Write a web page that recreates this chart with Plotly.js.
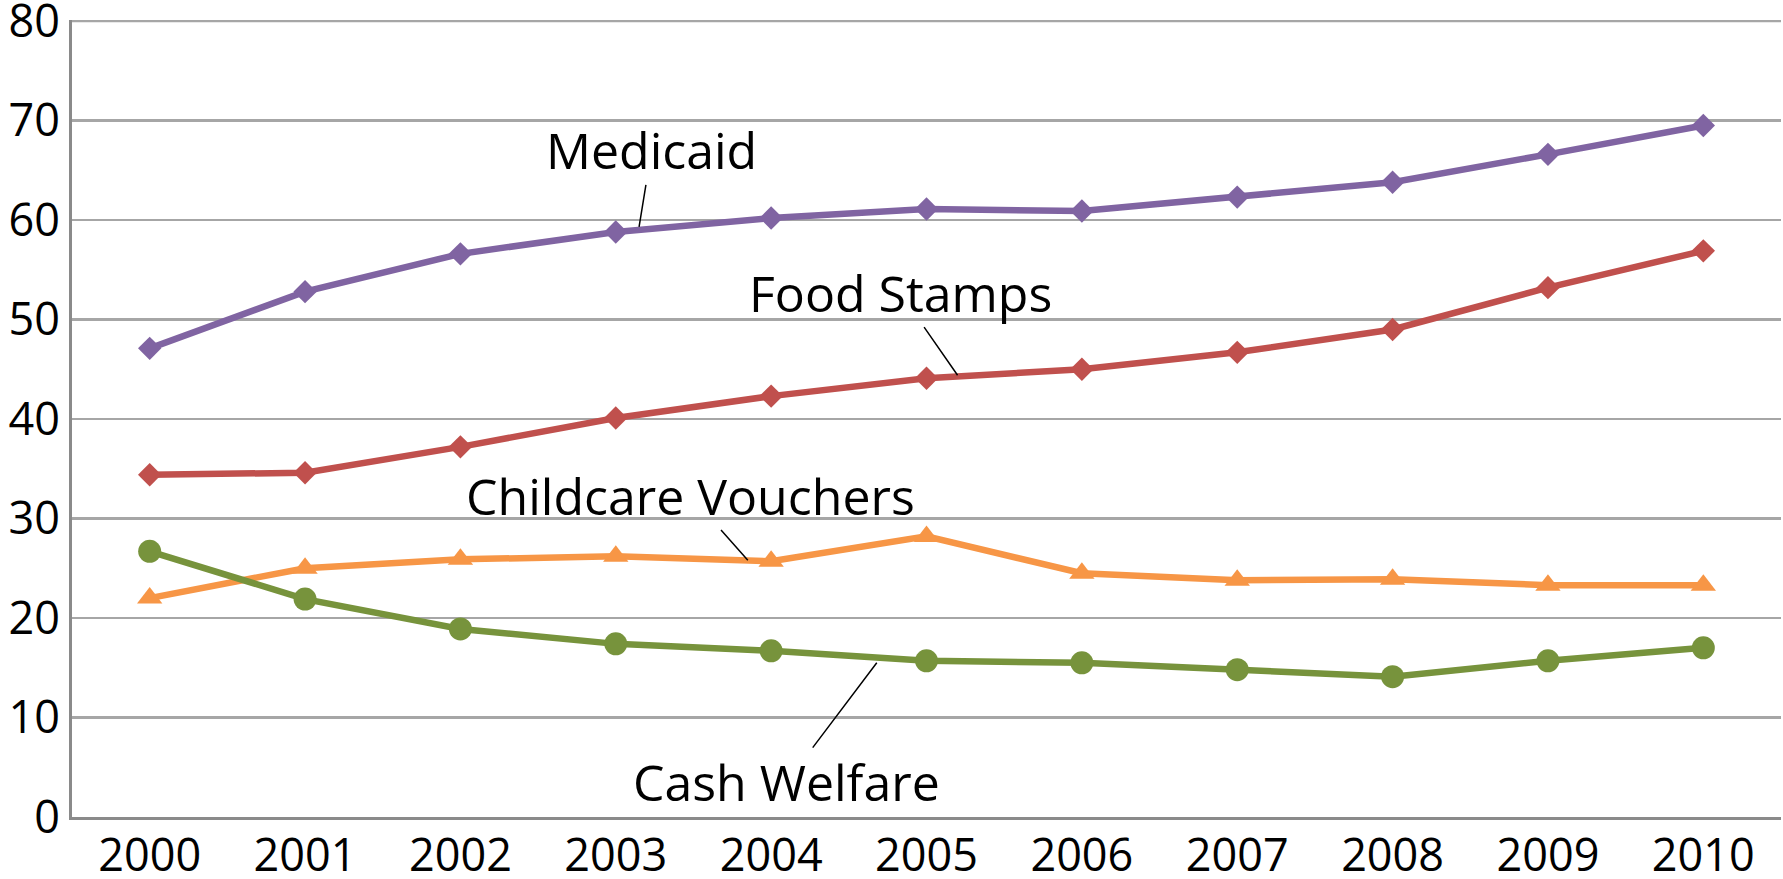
<!DOCTYPE html>
<html>
<head>
<meta charset="utf-8">
<script src="https://cdn.plot.ly/plotly-3.0.1.min.js"></script>
<style>html,body{margin:0;padding:0;background:#fff;}#chart{width:1783px;height:879px;}</style>
</head>
<body>
<div id="chart"></div>
<script>
const years = [2000, 2001, 2002, 2003, 2004, 2005, 2006, 2007, 2008, 2009, 2010];
const tickLabels = ["2000","2001","2002","2003","2004","2005","2006","2007","2008","2009","2010"];
const medicaid = [47.1, 52.8, 56.6, 58.8, 60.2, 61.1, 60.9, 62.3, 63.8, 66.6, 69.5];
const foodStamps = [34.4, 34.6, 37.2, 40.1, 42.3, 44.1, 45.0, 46.7, 49.0, 53.2, 56.9];
const childcare = [22.0, 25.0, 25.9, 26.2, 25.7, 28.2, 24.5, 23.8, 23.9, 23.3, 23.3];
const cashWelfare = [26.7, 21.9, 18.9, 17.4, 16.7, 15.7, 15.5, 14.8, 14.1, 15.7, 17.0];
const yTicks = [0, 10, 20, 30, 40, 50, 60, 70, 80];

const FONT = "Open Sans, Liberation Sans, sans-serif";

function series(name, y, color, symbol, size) {
  return {
    x: years, y: y, name: name, type: "scatter", mode: "lines+markers",
    line: {color: color, width: 6.5},
    marker: {color: color, symbol: symbol, size: size, line: {width: 0}},
    hoverinfo: "x+y"
  };
}

const data = [
  series("Medicaid", medicaid, "#8064A2", "diamond", 18),
  series("Food Stamps", foodStamps, "#C0504D", "diamond", 18),
  series("Childcare Vouchers", childcare, "#F79646", "triangle-up", 22),
  series("Cash Welfare", cashWelfare, "#77933C", "circle", 23)
];

function label(text, px, py, tx, ty) {
  return {
    text: text, x: px, y: py, xref: "x", yref: "y",
    ax: tx, ay: ty, axref: "x", ayref: "y",
    showarrow: true, arrowhead: 0, arrowwidth: 1.5, arrowcolor: "#000",
    standoff: 0, startstandoff: 0, borderpad: 0,
    font: {family: FONT, size: 50, color: "#000"}
  };
}

const yMax = yTicks[yTicks.length - 1];

const layout = {
  width: 1783, height: 879,
  margin: {l: 72, r: 2, t: 20, b: 62},
  paper_bgcolor: "#fff", plot_bgcolor: "#fff",
  showlegend: false,
  font: {family: FONT, color: "#000"},
  xaxis: {
    range: [1999.5, 2010.5], tickmode: "array", tickvals: years, ticktext: tickLabels,
    showgrid: false, zeroline: false, showline: true, linecolor: "#8a8a8a", linewidth: 3,
    ticks: "", tickfont: {family: FONT, size: 45, color: "#000"}, ticklabelstandoff: -3,
    ticklabeloverflow: "allow", fixedrange: true
  },
  yaxis: {
    range: [0, 80.1], tickmode: "array", tickvals: yTicks,
    showgrid: true, gridcolor: "#a6a6a6", gridwidth: 2.5,
    zeroline: false, showline: true, linecolor: "#8a8a8a", linewidth: 3,
    ticks: "", tickfont: {family: FONT, size: 45, color: "#000"}, ticklabelstandoff: 0,
    ticklabeloverflow: "allow", fixedrange: true
  },
  shapes: [
    {type: "line", xref: "paper", yref: "y", x0: 0, x1: 1, y0: yMax, y1: yMax,
     line: {color: "#a6a6a6", width: 2.5}, layer: "below"}
  ],
  annotations: [
    label("Medicaid", 2003.15, 59.3, 2003.23, 67.0),
    label("Food Stamps", 2005.2, 44.4, 2004.83, 52.7),
    label("Childcare Vouchers", 2003.85, 25.8, 2003.48, 32.3),
    label("Cash Welfare", 2004.68, 15.5, 2004.1, 3.5)
  ]
};

Plotly.newPlot("chart", data, layout, {displayModeBar: false, staticPlot: true});
</script>
</body>
</html>
